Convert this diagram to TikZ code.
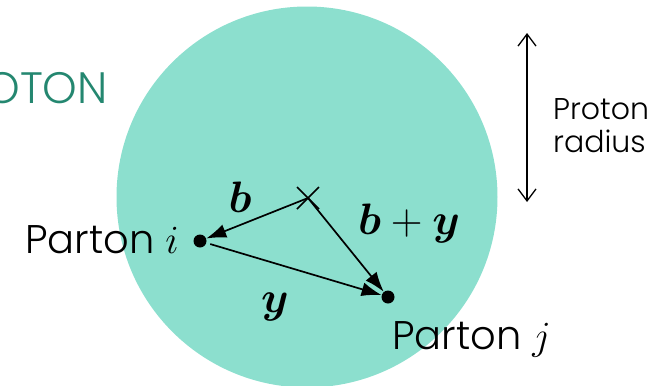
\RequirePackage{fix-cm}
\documentclass[tikz,border=0pt]{standalone}
\usepackage{fontspec}
\setmainfont{Poppins}[UprightFont={* Light}]
\usepackage{bm}
\usetikzlibrary{arrows.meta}
\definecolor{protonfill}{RGB}{140,223,206}
\definecolor{protontext}{RGB}{36,135,112}
\tikzset{
    parton/.style={
        circle,
        fill=black,
        inner sep=0pt,
        minimum size=13pt
    },
    vec/.style={line width=1.7pt, -{Latex[length=20pt,width=14pt]}},
    partonname/.style={
        font=\fontsize{40}{48}\selectfont,
        anchor=base west,
        inner sep=0pt
    },
    veclabel/.style={
        font=\fontsize{44}{50}\selectfont,
        anchor=base,
        inner sep=0pt
    }
}

\begin{document}
\begin{tikzpicture}[x=1pt, y=-1pt]
\useasboundingbox (0,0) rectangle (665,386);

\node (proton) [circle, fill=protonfill, minimum size=381pt, inner sep=0pt] at (307,197) {};

\node (title) [anchor=base east, inner sep=0pt, text=protontext,
    font=\fontsize{44}{50}\selectfont] at (108,103) {PROTON};

% radius marker
\coordinate (rtop) at (527,33);
\coordinate (rbot) at (527,202);
\draw [line width=1.3pt, {Straight Barb[length=12pt,width=18pt]}-{Straight Barb[length=12pt,width=18pt]}] (rtop) -- (rbot);
\node (radius) [anchor=base west, align=left, inner sep=0pt,
    font=\fontsize{30}{33}\selectfont] at (553,152) {Proton\\radius};

% partons and centre
\coordinate (centre) at (308,198);
\draw [line width=1.5pt] (centre) ++(-11,-11) -- ++(22,22);
\draw [line width=1.5pt] (centre) ++(11,-11) -- ++(-22,22);

\node (pi) [parton] at (200,241) {};
\node (pj) [parton] at (388,297) {};

\draw [vec] (centre) -- (pi);
\draw [vec] (centre) -- (pj);
\draw [vec, shorten <=4pt] (pi) -- (pj);

\node (bl) [veclabel] at (240,212) {$\bm{b}$};
\node (byl) [veclabel] at (409,234) {$\bm{b}+\bm{y}$};
\node (yl) [veclabel] at (275,312) {$\bm{y}$};

\node (ni) [partonname] at (25,253) {Parton $i$};
\node (nj) [partonname] at (392,349) {Parton $j$};

\end{tikzpicture}
\end{document}
